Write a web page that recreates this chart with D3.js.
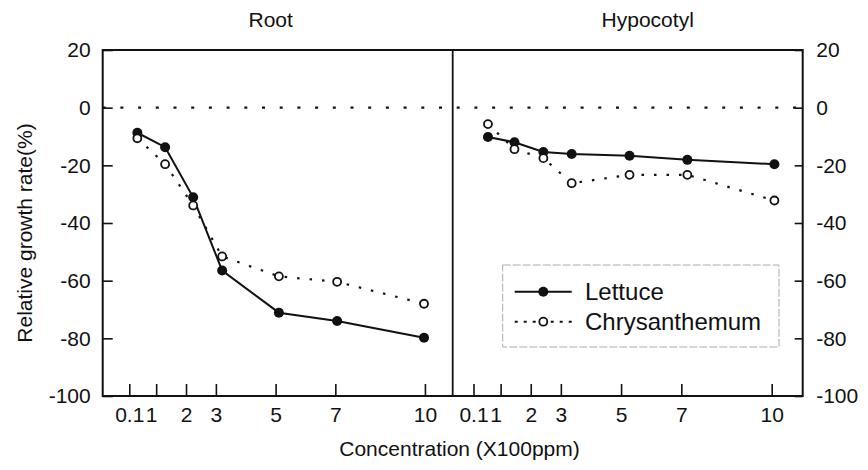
<!DOCTYPE html>
<html>
<head>
<meta charset="utf-8">
<script src="https://cdn.jsdelivr.net/npm/d3@7"></script>
<style>
  body { margin: 0; background: #fff; }
  svg { display: block; font-family: Arial, "Liberation Sans", sans-serif; }
  .axis text { font-size: 21px; fill: #111; }
  .axis line { stroke: #111; stroke-width: 1.6; }
</style>
</head>
<body>
<div id="chart"></div>
<script>
// values
const concTicks = [0.1, 1, 2, 3, 5, 7, 10]
const yTicks = [20, 0, -20, -40, -60, -80, -100]
const panelNames = ["Root", "Hypocotyl"]

const rootConc = [0.37, 1.30, 2.24, 3.21, 5.11, 7.06, 9.97]
const rootLettuce = [-8.7, -13.7, -31.1, -56.5, -71.1, -74.0, -79.8]
const rootChrys = [-10.6, -19.6, -33.9, -51.6, -58.5, -60.4, -68.0]

const hypoConc = [0.58, 1.46, 2.42, 3.36, 5.28, 7.20, 10.09]
const hypoLettuce = [-10.2, -12.0, -15.4, -16.1, -16.7, -18.1, -19.6]
const hypoChrys = [-5.7, -14.4, -17.5, -26.2, -23.3, -23.3, -32.2]

const seriesNames = ["Lettuce", "Chrysanthemum"]

//chart defaults
const width = 868
const height = 470
const marginTop = 50
const marginLeft = 102.7
const panelW = 350
const panelH = 346
const ink = "#111"
// plain hyphen for negatives, like the original
const plainFormat = d => String(d)

const svg = d3.select('#chart')
  .append('svg')
  .attr('width', width)
  .attr('height', height)

const yScale = d3.scaleLinear()
  .domain([-100, 20])
  .range([panelH, 0])

const panels = [
  { name: panelNames[0], x: rootConc, lettuce: rootLettuce, chrys: rootChrys, range: [0, panelW] },
  { name: panelNames[1], x: hypoConc, lettuce: hypoLettuce, chrys: hypoChrys, range: [-6, panelW - 3] }
]

// zero reference line across both panels
svg.append('line')
  .attr('x1', marginLeft).attr('x2', marginLeft + 2 * panelW)
  .attr('y1', marginTop + yScale(0)).attr('y2', marginTop + yScale(0))
  .attr('stroke', ink)
  .attr('stroke-width', 2.2)
  .attr('stroke-dasharray', '3,14.7')

panels.forEach(function (p, pi) {
  const g = svg.append('g')
    .attr('transform', 'translate(' + (marginLeft + pi * panelW) + ',' + marginTop + ')')

  const xScale = d3.scaleLinear()
    .domain([-0.79, 10.93])
    .range(p.range)

  const xAxis = d3.axisBottom(xScale)
    .tickValues(concTicks)
    .tickFormat(plainFormat)
    .tickSizeInner(-12)
    .tickSizeOuter(0)
    .tickPadding(11)

  const xg = g.append('g')
    .attr('class', 'axis')
    .attr('transform', 'translate(0,' + panelH + ')')
    .call(xAxis)
  xg.select('.domain').remove()
  // the "1" label sits tight against "0.1" in the original
  xg.selectAll('.tick text').filter(d => d === 1).attr('dx', -5)

  if (pi === 0) {
    const yg = g.append('g')
      .attr('class', 'axis')
      .call(d3.axisLeft(yScale).tickValues(yTicks).tickFormat(plainFormat).tickSizeInner(-10).tickSizeOuter(0).tickPadding(12))
    yg.select('.domain').remove()
  } else {
    const yg = g.append('g')
      .attr('class', 'axis')
      .attr('transform', 'translate(' + panelW + ',0)')
      .call(d3.axisRight(yScale).tickValues(yTicks).tickFormat(plainFormat).tickSizeInner(-8).tickSizeOuter(0).tickPadding(13.5))
    yg.select('.domain').remove()
  }

  // panel title
  g.append('text')
    .attr('x', pi === 0 ? 168 : 195)
    .attr('y', -30)
    .attr('dy', '0.35em')
    .attr('text-anchor', 'middle')
    .style('font-size', '21px')
    .attr('fill', ink)
    .text(p.name)

  const line = d3.line()
    .x(d => xScale(d[0]))
    .y(d => yScale(d[1]))

  const chrysData = p.x.map((c, i) => [c, p.chrys[i]])
  const lettData = p.x.map((c, i) => [c, p.lettuce[i]])

  g.append('path')
    .datum(chrysData)
    .attr('d', line)
    .attr('fill', 'none')
    .attr('stroke', ink)
    .attr('stroke-width', 2.2)
    .attr('stroke-dasharray', '2.5,10')

  g.append('path')
    .datum(lettData)
    .attr('d', line)
    .attr('fill', 'none')
    .attr('stroke', ink)
    .attr('stroke-width', 2)

  g.selectAll('.dot-l')
    .data(lettData)
    .enter()
    .append('circle')
    .attr('class', 'dot-l')
    .attr('cx', d => xScale(d[0]))
    .attr('cy', d => yScale(d[1]))
    .attr('r', 5)
    .attr('fill', ink)

  g.selectAll('.dot-c')
    .data(chrysData)
    .enter()
    .append('circle')
    .attr('class', 'dot-c')
    .attr('cx', d => xScale(d[0]))
    .attr('cy', d => yScale(d[1]))
    .attr('r', 4)
    .attr('fill', '#fff')
    .attr('stroke', ink)
    .attr('stroke-width', 1.8)
})

// frame and divider
svg.append('rect')
  .attr('x', marginLeft).attr('y', marginTop)
  .attr('width', 2 * panelW).attr('height', panelH)
  .attr('fill', 'none')
  .attr('stroke', ink)
  .attr('stroke-width', 2)

svg.append('line')
  .attr('x1', marginLeft + panelW).attr('x2', marginLeft + panelW)
  .attr('y1', marginTop).attr('y2', marginTop + panelH)
  .attr('stroke', ink)
  .attr('stroke-width', 1.8)

// axis titles
svg.append('text')
  .attr('x', 459.5)
  .attr('y', 449)
  .attr('dy', '0.35em')
  .attr('text-anchor', 'middle')
  .style('font-size', '21px')
  .attr('fill', ink)
  .text('Concentration (X100ppm)')

svg.append('text')
  .attr('transform', 'translate(25,233) rotate(-90)')
  .attr('dy', '0.35em')
  .attr('text-anchor', 'middle')
  .style('font-size', '21px')
  .attr('fill', ink)
  .text('Relative growth rate(%)')

// legend
const legend = svg.append('g')
  .attr('transform', 'translate(502.7,265)')

legend.append('rect')
  .attr('width', 276.3)
  .attr('height', 82)
  .attr('fill', 'none')
  .attr('stroke', '#aaa')
  .attr('stroke-width', 1)
  .attr('stroke-dasharray', '8,2')

const legendRows = legend.selectAll('.legend')
  .data(seriesNames)
  .enter()
  .append('g')
  .attr('class', 'legend')
  .attr('transform', (d, i) => 'translate(0,' + (26.7 + i * 30) + ')')

legendRows.append('line')
  .attr('x1', 12).attr('x2', 69)
  .attr('stroke', ink)
  .attr('stroke-width', 2)
  .attr('stroke-dasharray', (d, i) => i === 0 ? null : '3,6')

legendRows.append('circle')
  .attr('cx', 40.6)
  .attr('r', (d, i) => i === 0 ? 5 : 4)
  .attr('fill', (d, i) => i === 0 ? ink : '#fff')
  .attr('stroke', ink)
  .attr('stroke-width', (d, i) => i === 0 ? 0 : 1.8)

legendRows.append('text')
  .attr('x', 82.3)
  .attr('dy', '0.35em')
  .style('font-size', '24px')
  .attr('fill', ink)
  .text(d => d)
</script>
</body>
</html>
